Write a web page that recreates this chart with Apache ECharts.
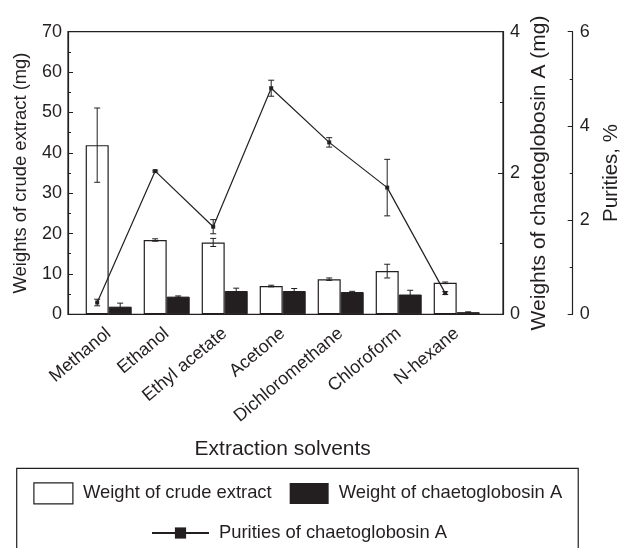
<!DOCTYPE html>
<html><head><meta charset="utf-8">
<script src="https://cdn.jsdelivr.net/npm/echarts@6/dist/echarts.min.js"></script>
<style>html,body{margin:0;padding:0;background:#fff}#c{width:620px;height:548px}</style>
</head><body><div id="c"></div>
<script>
// ---- data ----
const categories = ['Methanol', 'Ethanol', 'Ethyl acetate', 'Acetone', 'Dichloromethane', 'Chloroform', 'N-hexane'];
const crudeWeight = [41.9, 18.4, 17.8, 7.0, 8.7, 10.7, 7.8];          // mg, left axis
const crudeErr    = [9.2, 0.3, 1.0, 0.2, 0.3, 1.7, 0.2];
const chaetoWeight = [0.108, 0.25, 0.33, 0.33, 0.315, 0.28, 0.03];    // mg, right axis
const chaetoErr    = [0.05, 0.01, 0.04, 0.035, 0.01, 0.06, 0.005];
const purity    = [0.25, 3.04, 1.86, 4.80, 3.65, 2.69, 0.45];         // %, far right axis
const purityErr = [0.07, 0.02, 0.15, 0.17, 0.10, 0.60, 0.03];
const seriesNames = ['Weight of crude extract', 'Weight of chaetoglobosin A', 'Purities of chaetoglobosin A'];
const axisNames = ['Extraction solvents', 'Weights of crude extract (mg)', 'Weights of chaetoglobosin A (mg)', 'Purities, %'];

// ---- styling ----
const INK = '#231f20';
const FONT = "'Liberation Sans', Arial, Helvetica, sans-serif";
const BAR_W = 23;

function errRender(shift) {
  return function (params, api) {
    const i = api.value(0), v = api.value(1), e = api.value(2);
    const hi = api.coord([i, v + e]);
    const lo = api.coord([i, Math.max(0, v - e)]);
    const cx = hi[0] + shift;
    const cap = 3;
    const st = { stroke: INK, lineWidth: 1 };
    return {
      type: 'group', children: [
        { type: 'line', shape: { x1: cx, y1: hi[1], x2: cx, y2: lo[1] }, style: st },
        { type: 'line', shape: { x1: cx - cap, y1: hi[1], x2: cx + cap, y2: hi[1] }, style: st },
        { type: 'line', shape: { x1: cx - cap, y1: lo[1], x2: cx + cap, y2: lo[1] }, style: st }
      ]
    };
  };
}
const triples = (vals, errs) => vals.map((v, i) => [i, v, errs[i]]);

const chart = echarts.init(document.getElementById('c'), null, { renderer: 'canvas' });
const labelStyle = { color: INK, fontFamily: FONT, fontSize: 18 };

chart.setOption({
  animation: false,
  backgroundColor: '#fff',
  textStyle: { fontFamily: FONT, color: INK },
  grid: [
    { left: 68, right: 117, top: 31.7, bottom: 233.7, show: true, borderColor: INK, borderWidth: 1.2, backgroundColor: 'transparent', outerBoundsMode: 'none', containLabel: false },
    { left: 79.7, right: 134.3, top: 31.7, bottom: 233.7, outerBoundsMode: 'none', containLabel: false },
    { left: 68.2, right: 145.8, top: 31.7, bottom: 233.7, outerBoundsMode: 'none', containLabel: false }
  ],
  xAxis: [
    { gridIndex: 0, type: 'value', show: false, min: 0, max: 1 },
    {
      gridIndex: 1, type: 'category', data: categories, boundaryGap: true,
      axisLine: { show: false }, axisTick: { show: false }, splitLine: { show: false },
      axisLabel: { ...labelStyle, fontSize: 18, rotate: 40, margin: 17, interval: 0 },
      name: axisNames[0], nameLocation: 'middle', nameGap: 124, nameMoveOverlap: false,
      nameTextStyle: { color: INK, fontFamily: FONT, fontSize: 21 }
    },
    { gridIndex: 2, type: 'category', data: categories, boundaryGap: true, show: false }
  ],
  yAxis: [
    { gridIndex: 0, type: 'value', show: false, min: 0, max: 1 },
    {
      gridIndex: 1, type: 'value', position: 'left', offset: 11.7, min: 0, max: 70, interval: 10,
      axisLine: { show: true, lineStyle: { color: INK, width: 1.2 } },
      axisTick: { show: true, inside: true, length: 5, lineStyle: { color: INK } },
      minorTick: { show: true, splitNumber: 2, length: 3, lineStyle: { color: INK } },
      splitLine: { show: false },
      axisLabel: { ...labelStyle, margin: 6 },
      name: axisNames[1], nameLocation: 'middle', nameRotate: 90, nameGap: 38, nameMoveOverlap: false,
      nameTextStyle: { color: INK, fontFamily: FONT, fontSize: 18.4 }
    },
    {
      gridIndex: 1, type: 'value', position: 'right', offset: 17.3, min: 0, max: 4, interval: 2,
      axisLine: { show: true, lineStyle: { color: INK, width: 1.2 } },
      axisTick: { show: true, inside: true, length: 5, lineStyle: { color: INK } },
      minorTick: { show: true, splitNumber: 2, length: 3, lineStyle: { color: INK } },
      splitLine: { show: false },
      axisLabel: { ...labelStyle, margin: 7 },
      name: axisNames[2], nameLocation: 'middle', nameRotate: 90, nameGap: 26, nameMoveOverlap: false,
      nameTextStyle: { color: INK, fontFamily: FONT, fontSize: 21 }
    },
    {
      gridIndex: 2, type: 'value', position: 'right', offset: 98.5, min: 0, max: 6, interval: 2,
      axisLine: { show: true, lineStyle: { color: INK, width: 1.2 } },
      axisTick: { show: true, inside: true, length: 5, lineStyle: { color: INK } },
      minorTick: { show: true, splitNumber: 2, length: 3, lineStyle: { color: INK } },
      splitLine: { show: false },
      axisLabel: { ...labelStyle, margin: 7 },
      name: axisNames[3], nameLocation: 'middle', nameRotate: 90, nameGap: 28, nameMoveOverlap: false,
      nameTextStyle: { color: INK, fontFamily: FONT, fontSize: 20.5 }
    }
  ],
  legend: [
    {
      left: 16.7, top: 468.3, orient: 'horizontal',
      padding: [14, 16, 52, 16.6], borderColor: INK, borderWidth: 1.2,
      itemWidth: 39, itemHeight: 21, itemGap: 18,
      textStyle: { color: INK, fontFamily: FONT, fontSize: 18.4, padding: [0, 0, 0, 5] },
      data: [
        { name: seriesNames[0], icon: 'rect', itemStyle: { color: '#fff', borderColor: INK, borderWidth: 1.2 } },
        { name: seriesNames[1], icon: 'rect', itemStyle: { color: INK, borderWidth: 0 } }
      ]
    },
    {
      left: 151, top: 524, padding: 0,
      itemWidth: 57, itemHeight: 14,
      textStyle: { color: INK, fontFamily: FONT, fontSize: 18.4, padding: [0, 0, 0, 5] },
      data: [{ name: seriesNames[2] }]
    }
  ],
  series: [
    {
      name: seriesNames[0], type: 'bar', xAxisIndex: 1, yAxisIndex: 1,
      data: crudeWeight, barWidth: BAR_W, barGap: '0%',
      itemStyle: { color: '#fff', borderColor: INK, borderWidth: 1.2 }
    },
    {
      name: seriesNames[1], type: 'bar', xAxisIndex: 1, yAxisIndex: 2,
      data: chaetoWeight, barWidth: BAR_W, barGap: '0%',
      itemStyle: { color: INK, borderColor: INK, borderWidth: 1 }
    },
    {
      type: 'custom', xAxisIndex: 1, yAxisIndex: 1, z: 5,
      data: triples(crudeWeight, crudeErr), renderItem: errRender(-BAR_W / 2), silent: true
    },
    {
      type: 'custom', xAxisIndex: 1, yAxisIndex: 2, z: 5,
      data: triples(chaetoWeight, chaetoErr), renderItem: errRender(BAR_W / 2), silent: true
    },
    {
      name: seriesNames[2], type: 'line', xAxisIndex: 2, yAxisIndex: 3, z: 6,
      data: purity, symbol: 'rect', symbolSize: 4,
      lineStyle: { color: INK, width: 1.2 }, itemStyle: { color: INK }
    },
    {
      type: 'custom', xAxisIndex: 2, yAxisIndex: 3, z: 6,
      data: triples(purity, purityErr), renderItem: errRender(0), silent: true
    }
  ]
});
</script>
</body></html>
